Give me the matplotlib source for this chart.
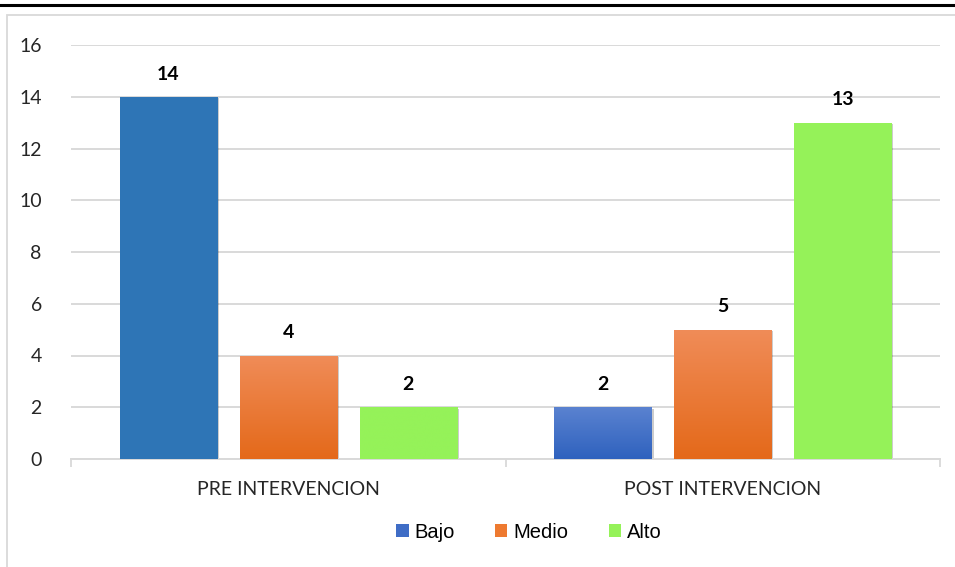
import numpy as np
import matplotlib
matplotlib.use('Agg')
import matplotlib.pyplot as plt
from matplotlib.lines import Line2D
from matplotlib.patches import Rectangle, Patch
from matplotlib.colors import LinearSegmentedColormap
import matplotlib.patheffects as pe

# data
categories = ['PRE INTERVENCION', 'POST INTERVENCION']
series = ['Bajo', 'Medio', 'Alto']
bajo = [14, 2]
medio = [4, 5]
alto = [2, 13]
yticks = [0, 2, 4, 6, 8, 10, 12, 14, 16]

# (top, bottom) colours per bar; equal pair means flat fill
bar_colors = {
    'Bajo': [('#2E75B6', '#2E75B6'), ('#5A82D0', '#2F62BE')],
    'Medio': [('#F08C58', '#E4691A'), ('#F08C58', '#E4691A')],
    'Alto': [('#95F259', '#95F259'), ('#95F259', '#95F259')],
}
legend_colors = {'Bajo': '#3F6DC6', 'Medio': '#EE7A30', 'Alto': '#95F259'}

plt.rcParams['font.family'] = ['Lato', 'DejaVu Sans']

W, H = 955, 567
fig = plt.figure(figsize=(W / 100, H / 100), dpi=100)

# outer decoration: black rule on top and light chart frame
fig.add_artist(Line2D([0, 1], [1 - 5 / H, 1 - 5 / H], color='black', lw=2.2,
                      transform=fig.transFigure))
fig.add_artist(Rectangle((7 / W, -0.05), 1.0, 1 - 15 / H + 0.05, transform=fig.transFigure,
                         fill=False, edgecolor='#D9D9D9', lw=1.3))

ax = fig.add_axes([71 / W, 1 - 459 / H, (940 - 71) / W, (459 - 45) / H])

x = np.arange(len(categories))
width = 0.224
step = 0.276
all_vals = [bajo, medio, alto]

for i, (name, vals) in enumerate(zip(series, all_vals)):
    bars = ax.bar(x + (i - 1) * step, vals, width, color='none', zorder=3)
    for j, b in enumerate(bars):
        top, bot = bar_colors[name][j]
        cmap = LinearSegmentedColormap.from_list('g', [bot, top])
        x0, w, h = b.get_x(), b.get_width(), b.get_height()
        # shadow behind the bar
        ax.add_patch(Rectangle((x0, 0), w, h, facecolor=top, edgecolor='none', zorder=2,
                               path_effects=[pe.SimplePatchShadow(offset=(1.5, -1.0),
                                                                  alpha=0.2, shadow_rgbFace='black'),
                                             pe.Normal()]))
        grad = np.linspace(0, 1, 100).reshape(-1, 1)
        im = ax.imshow(grad, cmap=cmap, origin='lower', aspect='auto',
                       extent=[x0, x0 + w, 0, h], zorder=3)
        im.set_clip_path(b)
        ax.text(x0 + w / 2, h + 0.55, str(vals[j]), ha='center', va='bottom',
                fontsize=14, fontweight='bold', color='black', zorder=4)

ax.set_xlim(-0.5, 1.5)
ax.set_ylim(0, 16)
ax.set_yticks(yticks)
ax.yaxis.grid(True, color='#D9D9D9', lw=1.4)
ax.set_axisbelow(True)
ax.tick_params(axis='y', length=0, pad=21, labelsize=14, labelcolor='#262626')

ax.set_xticks(x)
ax.set_xticklabels(categories)
ax.tick_params(axis='x', which='major', length=0, pad=16, labelsize=14, labelcolor='#262626')
ax.set_xticks([-0.5, 0.5, 1.5], minor=True)
ax.tick_params(axis='x', which='minor', length=6, width=1.3, color='#D9D9D9')

for s in ['top', 'right', 'left']:
    ax.spines[s].set_visible(False)
ax.spines['bottom'].set_color('#D9D9D9')
ax.spines['bottom'].set_linewidth(1.4)

handles = [Patch(facecolor=legend_colors[n], edgecolor='none') for n in series]
fig.legend(handles, series, loc='center', bbox_to_anchor=(529 / W, 1 - 532 / H), ncol=3,
           frameon=False, handlelength=0.6, handleheight=0.6, handletextpad=0.3,
           columnspacing=2.0, prop={'family': ['Liberation Sans', 'DejaVu Sans'], 'size': 14.5})

fig.savefig('out.png', dpi=100)
